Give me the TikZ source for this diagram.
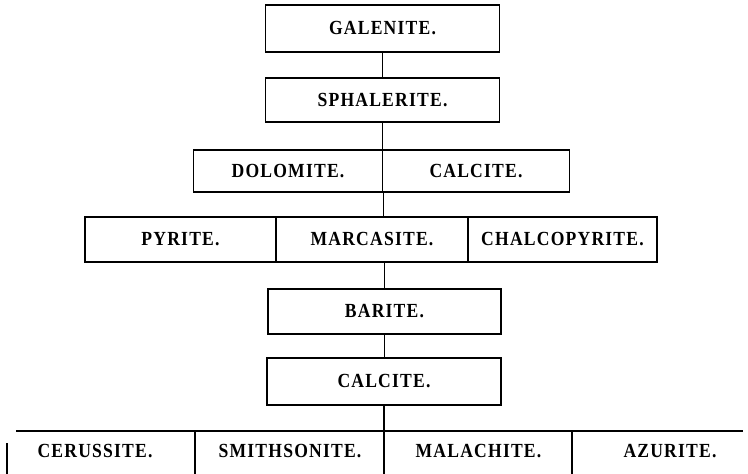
\documentclass[tikz,border=0pt]{standalone}
\usepackage{fontspec}
\setmainfont{Liberation Serif}[LetterSpace=6,FakeStretch=0.88]
\begin{document}
\begin{tikzpicture}[x=1pt,y=-1pt,line width=1.3pt,
  cellbox/.style={draw,rectangle,inner sep=0pt,font=\fontsize{20}{20}\selectfont\bfseries},
  celltext/.style={inner sep=0pt,font=\fontsize{20}{20}\selectfont\bfseries}]
\useasboundingbox (0,0) rectangle (748,474);
% row 1
\node[cellbox,minimum width=234,minimum height=47] (gal) at (382.5,28.5) {GALENITE.};
% row 2
\node[cellbox,minimum width=234,minimum height=44] (sph) at (382.5,100) {SPHALERITE.};
% row 3
\node[cellbox,minimum width=189,minimum height=42] (dol) at (288,171) {DOLOMITE.};
\node[cellbox,minimum width=187,minimum height=42] (calA) at (476,171) {CALCITE.};
% row 4
\node[cellbox,minimum width=191,minimum height=45] (pyr) at (180.5,239.5) {PYRITE.};
\node[cellbox,minimum width=192,minimum height=45] (mar) at (372,239.5) {MARCASITE.};
\node[cellbox,minimum width=189,minimum height=45] (chal) at (562.5,239.5) {CHALCOPYRITE.};
% row 5
\node[cellbox,minimum width=233,minimum height=45] (bar) at (384.5,311.5) {BARITE.};
% row 6
\node[cellbox,minimum width=234,minimum height=47] (calB) at (384,381.5) {CALCITE.};
% row 7
\node[celltext] (cer) at (95,451) {CERUSSITE.};
\node[celltext] (smi) at (290,451) {SMITHSONITE.};
\node[celltext] (mal) at (478.5,451) {MALACHITE.};
\node[celltext] (azu) at (670,451) {AZURITE.};
\coordinate (tl) at (16,431);
\coordinate (tr) at (743,431);
\coordinate (d1) at (195,431);
\coordinate (d2) at (384,431);
\coordinate (d3) at (572,431);
\coordinate (lb) at (7,443);
\draw (tl) -- (tr);
\draw (d1) -- (d1 |- 0,474);
\draw (d2) -- (d2 |- 0,474);
\draw (d3) -- (d3 |- 0,474);
\draw (lb) -- (lb |- 0,474);
% connectors
\draw (gal.south) -- (sph.north);
\draw (sph.south) -- (sph.south |- dol.north);
\draw (dol.south east) -- (dol.south east |- mar.north);
\draw (bar.north) -- (bar.north |- mar.south);
\draw (bar.south) -- (bar.south |- calB.north);
\draw (calB.south) -- (calB.south |- d2);
\end{tikzpicture}
\end{document}
